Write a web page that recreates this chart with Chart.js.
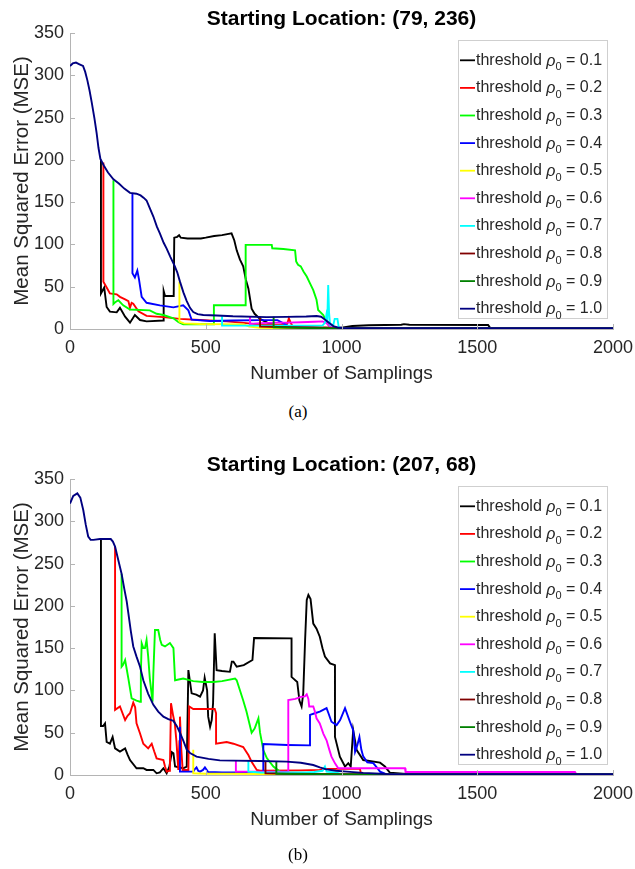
<!DOCTYPE html>
<html>
<head>
<meta charset="utf-8">
<script src="https://cdn.jsdelivr.net/npm/chart.js@4.4.1/dist/chart.umd.min.js"></script>
<style>
  body { margin: 0; background: #fff; width: 635px; height: 869px; position: relative; overflow: hidden; }
  .panel { position: absolute; left: 0; width: 635px; height: 400px; }
  .caption { position: absolute; left: 0; width: 596px; text-align: center; font: 17px 'Liberation Serif', 'Times New Roman', serif; color: #000; }
</style>
</head>
<body>
<div class="panel" style="top:0"><canvas id="chartA" width="635" height="400"></canvas></div>
<div class="caption" style="top:402px">(a)</div>
<div class="panel" style="top:446px"><canvas id="chartB" width="635" height="400"></canvas></div>
<div class="caption" style="top:845px">(b)</div>
<script>
const thresholds = ['0.1', '0.2', '0.3', '0.4', '0.5', '0.6', '0.7', '0.8', '0.9', '1.0'];
const xTicks = [0, 500, 1000, 1500, 2000];
const yTicks = [0, 50, 100, 150, 200, 250, 300, 350];
const titleA = 'Starting Location: (79, 236)';
const titleB = 'Starting Location: (207, 68)';

// panel (a): [samplings, MSE] per threshold
const a01 = [[114,200],[114,42],[126,49],[135,26],[147,20.5],[172,19.7],[184,25],[203,14.6],[221,7.5],[239,16.5],[258,10.6],[282,9],[344,10],[345,45],[350,39],[382,39],[384,108],[395,109],[402,111],[408,108],[433,107],[482,107],[500,108],[531,110],[560,111],[595,113],[605,105],[614,93],[626,82],[638,74],[648,58],[657,48],[669,24],[680,18],[700,12],[730,7],[764,4],[800,2],[900,1.5],[1000,1.5],[1040,3.5],[1100,4.5],[1220,5],[1230,5.7],[1250,5],[1540,4.7],[1548,1],[2000,0.8]];
const a02 = [[123,197],[123,56],[135,49],[147,42],[172,41],[184,38],[203,35],[215,33],[221,25],[227,31],[233,30],[252,21],[282,15.5],[344,14],[405,12],[479,10.6],[577,9],[650,7],[700,5],[770,5],[800,6],[806,12.6],[812,8],[820,3],[900,2],[1000,1],[2000,0.8]];
const a03 = [[160,176],[160,29.5],[168,32],[178,34],[196,28],[221,23],[294,22],[319,18],[344,16.5],[381,12.6],[400,8],[417,5.6],[528,5.6],[530,28],[645,28],[647,99.5],[743,99.5],[745,95.5],[786,94.6],[829,93],[833,80],[840,76],[850,74],[860,68],[872,62],[884,54],[896,46],[908,34.5],[914,22.5],[933,16.6],[945,8],[960,1],[1000,0.6],[2000,0.6]];
const a04 = [[230,160],[230,66],[239,61],[248,69],[254,59],[264,38],[282,31],[331,28],[381,25.6],[417,28],[436,22],[448,11],[515,9.5],[600,10],[700,10.5],[764,10.5],[790,6],[810,2],[860,1.5],[1000,0.8],[2000,0.6]];
const a05 = [[403,56],[403,8.7],[420,6.7],[480,6],[640,5.5],[660,3],[700,1.5],[800,0.8],[900,0.6],[2000,0.5]];
const a06 = [[663,14.5],[663,6],[700,7],[760,7.5],[800,7.5],[850,8],[900,8.5],[930,9],[945,7],[960,2],[1000,1],[1200,0.8],[2000,0.6]];
const a07 = [[560,15],[560,4],[700,4],[930,4],[940,8],[945,18],[948,14],[951,52],[954,20],[958,5],[970,5],[975,12],[985,12],[990,2],[1000,1],[2000,0.6]];
const a08 = [[700,14.5],[700,3],[800,2],[900,1.5],[1000,0.7],[2000,0.6]];
const a09 = [[750,14.5],[750,2],[900,1],[1000,0.6],[2000,0.6]];
const a10 = [[0,311],[10,314],[22,315],[35,313],[48,311],[56,304],[64,294],[72,282],[80,268],[90,249],[98,232],[105,214],[112,201],[125,193],[140,185],[160,177],[180,172],[200,166],[221,161],[245,160],[260,158],[272,155],[282,152],[295,142],[307,133],[320,121],[331,113],[345,102],[356,95],[370,85],[385,75],[395,67],[405,56],[418,43],[430,33],[442,25],[454,20],[470,17.5],[491,16.5],[540,16],[600,15],[724,14],[800,14.3],[870,14.8],[908,15.4],[925,14.5],[940,11],[955,7],[970,3.5],[985,1.8],[1006,1.2],[1500,0.8],[2000,0.8]];

// panel (b)
const b01 = [[114,278],[114,58],[122,58],[129,61],[135,39],[147,37],[157,45],[166,31.5],[184,27.6],[203,31.5],[212,24],[221,17.7],[245,7.9],[270,8],[282,6],[307,6],[319,2],[331,3],[344,8],[356,2],[366,10],[375,27],[381,25.6],[387,10],[417,8],[430,10],[436,124],[442,110],[448,96.6],[465,95],[479,92.6],[490,100],[496,115],[505,100],[509,69],[516,57],[522,65],[527,85],[533,167.5],[540,124],[560,123],[589,122],[596,134],[602,134],[614,128],[640,130],[672,136],[678,162],[816,161.6],[816,116],[823,114],[837,110],[845,88],[853,81],[859,96],[866,160],[872,207],[878,213],[886,208],[896,179],[908,173],[920,163.5],[930,150],[939,140],[958,132],[976,130],[976,45],[994,21.7],[1013,10],[1025,14],[1034,10],[1043,53],[1056,29.5],[1080,17.7],[1142,14.6],[1160,10],[1178,2.8],[1250,1],[2000,0.8]];
const b02 = [[166,270],[166,77],[184,81],[203,65],[212,70],[221,73],[233,85.5],[240,80],[245,61],[258,49],[270,37],[288,31.5],[301,37],[310,28],[319,19.7],[344,17.7],[350,10],[356,4],[365,5],[368,8],[372,84.8],[380,70],[386,61],[392,40],[399,6],[403,40],[405,69],[410,30],[415,6],[436,6],[439,81],[454,78],[533,78],[538,73],[538,37],[577,39],[602,37],[620,35],[638,33],[648,28],[657,23.6],[670,15],[688,6],[700,5],[850,5.5],[920,6],[940,7.2],[1068,7.2],[1072,1],[2000,0.8]];
const b03 = [[190,238],[190,128],[195,130],[203,136],[209,125],[215,114],[227,90.6],[245,88],[258,86.7],[261,120],[264,155.7],[270,150],[276,150],[282,159.6],[288,140],[294,114],[304,86.7],[307,120],[313,171.5],[325,171.5],[332,160],[338,154],[350,152],[368,156],[381,150],[387,112],[417,114],[454,111],[490,110],[528,110],[560,111],[608,114],[614,112],[638,88],[650,75],[669,50],[680,55],[694,67],[700,50],[712,29.5],[725,20],[749,10],[773,4],[790,1.5],[2000,0.6]];
const b04 = [[405,57],[405,4],[454,4],[460,7],[466,9],[472,5],[479,4],[490,6],[497,9],[509,3.5],[560,3],[640,3],[712,3.5],[712,36.6],[800,35.5],[884,35],[884,71],[902,73],[920,75],[945,79],[952,73],[963,63],[982,59],[995,65],[1013,79],[1031,63],[1043,53],[1050,27.6],[1058,35],[1066,45],[1073,30],[1080,22],[1095,15],[1117,14],[1135,7],[1142,4],[1160,1.5],[2000,0.8]];
const b05 = [[454,30],[454,2],[500,1.5],[600,1.5],[700,1.2],[900,1],[2000,0.5]];
const b06 = [[611,17],[611,4],[650,4],[700,4],[780,4],[804,4],[804,88.7],[830,90],[853,92.6],[865,93],[872,95.5],[878,90],[881,81],[896,81],[902,75],[908,67],[920,61],[933,49],[945,41],[955,30],[963,21.7],[976,13.8],[988,7.9],[1234,7.9],[1236,3.5],[1500,3.5],[1860,3.5],[1865,1],[2000,0.8]];
const b07 = [[657,17],[657,4],[700,3],[800,3],[870,3],[900,3.5],[930,5],[939,10],[945,4],[980,3],[1000,1],[2000,0.6]];
const b08 = [[720,16.5],[720,2],[800,1.5],[900,1.2],[1000,0.8],[2000,0.6]];
const b09 = [[760,16.3],[760,1.5],[900,1],[1000,0.7],[2000,0.6]];
const b10 = [[0,321],[12,330],[27,333],[38,328],[49,313],[58,296],[67,282],[76,278],[86,278],[110,279],[150,279],[158,276],[166,270],[178,254],[190,238],[200,220],[209,205],[215,191],[224,170],[233,152],[245,140],[258,128],[270,112],[288,96],[307,83],[325,75],[344,69],[362,66],[381,64],[393,58],[405,50],[418,40],[430,30],[442,26],[466,21.7],[510,19],[552,17.3],[600,17],[700,16.5],[798,15.8],[850,14.5],[896,11.8],[920,9],[945,6.7],[980,5],[1019,4],[1080,2.5],[1166,1.2],[1300,1],[2000,0.8]];

const seriesA = [a01, a02, a03, a04, a05, a06, a07, a08, a09, a10];
const seriesB = [b01, b02, b03, b04, b05, b06, b07, b08, b09, b10];

const colors = ['#000000', '#ff0000', '#00ff00', '#0000ff', '#ffff00', '#ff00ff', '#00ffff', '#800000', '#008000', '#000080'];
const FONT = "'Liberation Sans', Arial, sans-serif";
const AXIS = '#b4b4b4';

Chart.defaults.font.family = FONT;
Chart.defaults.color = '#262626';

// title drawn over the plot centre, like matlab does
const titlePlugin = {
    id: 'plotTitle',
    afterDraw(chart, args, opts) {
        const { ctx, chartArea } = chart;
        ctx.save();
        ctx.font = 'bold 21px ' + FONT;
        ctx.fillStyle = '#000';
        ctx.textAlign = 'center';
        ctx.textBaseline = 'middle';
        ctx.fillText(opts.text, (chartArea.left + chartArea.right) / 2, 19);
        ctx.restore();
    }
};

// inward tick marks
const tickPlugin = {
    id: 'inTicks',
    afterDatasetsDraw(chart) {
        const { ctx, chartArea, scales } = chart;
        ctx.save();
        ctx.strokeStyle = AXIS;
        ctx.lineWidth = 1;
        ctx.beginPath();
        scales.x.ticks.forEach(t => {
            const px = Math.round(scales.x.getPixelForValue(t.value)) + 0.5;
            ctx.moveTo(px, chartArea.bottom);
            ctx.lineTo(px, chartArea.bottom - 5);
        });
        scales.y.ticks.forEach(t => {
            const py = Math.round(scales.y.getPixelForValue(t.value)) + 0.5;
            ctx.moveTo(chartArea.left, py);
            ctx.lineTo(chartArea.left + 5, py);
        });
        ctx.stroke();
        ctx.restore();
    }
};

// legend box inside the top right corner, with rho subscript
const legendPlugin = {
    id: 'insideLegend',
    afterDatasetsDraw(chart) {
        const { ctx, chartArea } = chart;
        const x0 = chartArea.right - 155, y0 = chartArea.top + 7;
        ctx.save();
        ctx.fillStyle = '#fff';
        ctx.fillRect(x0, y0, 149, 278);
        ctx.strokeStyle = '#cfcfcf';
        ctx.lineWidth = 1;
        ctx.strokeRect(x0 + 0.5, y0 + 0.5, 149, 278);
        ctx.textBaseline = 'middle';
        ctx.textAlign = 'left';
        chart.data.datasets.forEach((ds, i) => {
            const y = y0 + 20.3 + i * 27.6;
            ctx.strokeStyle = ds.borderColor;
            ctx.lineWidth = 1.8;
            ctx.beginPath();
            ctx.moveTo(x0 + 2, y);
            ctx.lineTo(x0 + 17, y);
            ctx.stroke();
            ctx.fillStyle = '#262626';
            let x = x0 + 18;
            ctx.font = '16px ' + FONT;
            ctx.fillText('threshold ', x, y);
            x += ctx.measureText('threshold ').width;
            ctx.font = 'italic 16px ' + FONT;
            ctx.fillText('\u03c1', x, y + 1);
            x += ctx.measureText('\u03c1').width;
            ctx.font = '11px ' + FONT;
            ctx.fillText('0', x, y + 7);
            x += ctx.measureText('0').width;
            ctx.font = '16px ' + FONT;
            ctx.fillText(' = ' + thresholds[i], x, y);
        });
        ctx.restore();
    }
};

function noPad(s) {
    s.paddingLeft = 0;
    s.paddingRight = 0;
    s.paddingTop = 0;
    s.paddingBottom = 0;
}

function makeChart(id, title, series) {
    const ctx = document.getElementById(id).getContext('2d');
    return new Chart(ctx, {
        type: 'line',
        data: {
            datasets: series.map((pts, i) => ({
                label: 'threshold \u03c1\u2080 = ' + thresholds[i],
                data: pts.map(([x, y]) => ({ x, y })),
                borderColor: colors[i],
                borderWidth: 1.9,
                pointRadius: 0,
                tension: 0,
                fill: false,
                order: series.length - i
            }))
        },
        options: {
            responsive: false,
            animation: false,
            devicePixelRatio: 1,
            layout: { padding: { top: 33, right: 22, bottom: 0, left: 0 } },
            plugins: {
                legend: { display: false },
                tooltip: { enabled: false },
                plotTitle: { text: title }
            },
            scales: {
                x: {
                    type: 'linear',
                    min: xTicks[0],
                    max: xTicks[xTicks.length - 1],
                    afterBuildTicks: s => { s.ticks = xTicks.map(v => ({ value: v })); },
                    afterFit: s => { s.height = 71; noPad(s); },
                    grid: { display: false, drawTicks: false },
                    border: { display: true, color: AXIS, width: 1 },
                    ticks: { font: { size: 18 }, padding: 8, maxRotation: 0, callback: v => String(v) },
                    title: { display: true, text: 'Number of Samplings', font: { size: 19 }, padding: { top: 0, bottom: 14.6 } }
                },
                y: {
                    type: 'linear',
                    min: yTicks[0],
                    max: yTicks[yTicks.length - 1],
                    afterBuildTicks: s => { s.ticks = yTicks.map(v => ({ value: v })); },
                    afterFit: s => { s.width = 70; noPad(s); },
                    grid: { display: false, drawTicks: false },
                    border: { display: true, color: AXIS, width: 1 },
                    ticks: { font: { size: 18 }, padding: 6, callback: v => String(v) },
                    title: { display: true, text: 'Mean Squared Error (MSE)', font: { size: 20.5 }, padding: { top: 10, bottom: 0 } }
                }
            }
        },
        plugins: [titlePlugin, tickPlugin, legendPlugin]
    });
}

makeChart('chartA', titleA, seriesA);
makeChart('chartB', titleB, seriesB);
</script>
</body>
</html>
